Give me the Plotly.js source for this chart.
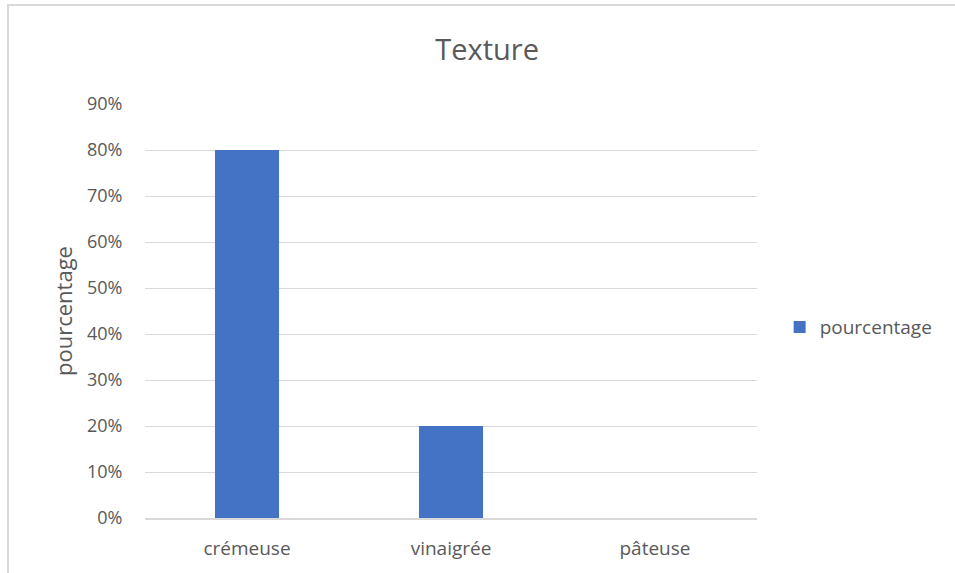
<!DOCTYPE html>
<html>
<head>
<meta charset="utf-8">
<script src="https://cdn.plot.ly/plotly-3.0.1.min.js"></script>
<style>
  html, body { margin: 0; padding: 0; background: #ffffff; }
  #wrap { position: relative; width: 955px; height: 573px; overflow: hidden; }
  #chart { width: 955px; height: 573px; }
  #frame {
    position: absolute; left: 7px; top: 4px; width: 1000px; height: 600px;
    border-top: 2px solid #d9d9d9; border-left: 2px solid #d9d9d9;
    pointer-events: none;
  }
</style>
</head>
<body>
<div id="wrap">
  <div id="chart"></div>
  <div id="frame"></div>
</div>
<script>
// Texture categories and their shares
const categories = ["crémeuse", "vinaigrée", "pâteuse"];
const values = [0.8, 0.2, 0];
const seriesName = "pourcentage";
const tickVals = [0, 0.1, 0.2, 0.3, 0.4, 0.5, 0.6, 0.7, 0.8, 0.9];
const tickText = ["0%", "10%", "20%", "30%", "40%", "50%", "60%", "70%", "80%", "90%"];

const textColor = "#595959";
const gridColor = "#d9d9d9";
const fontFamily = "'Open Sans', 'Noto Sans', sans-serif";

const trace = {
  type: "bar",
  x: categories,
  y: values,
  name: seriesName,
  marker: { color: "#4472C4" },
  showlegend: true,
  hoverinfo: "x+y"
};

const layout = {
  width: 955,
  height: 573,
  paper_bgcolor: "#ffffff",
  plot_bgcolor: "#ffffff",
  margin: { l: 145, r: 198, t: 104, b: 55 },
  bargap: 0.686,
  font: { family: fontFamily, color: textColor, size: 18 },
  title: {
    text: "Texture",
    font: { family: fontFamily, size: 29, color: textColor },
    xref: "paper", x: 0.559, xanchor: "center",
    yref: "container", y: 0.913, yanchor: "middle"
  },
  xaxis: {
    type: "category",
    showgrid: false,
    showline: true,
    linecolor: gridColor,
    linewidth: 2,
    ticks: "outside",
    ticklen: 12,
    tickcolor: "rgba(0,0,0,0)",
    tickfont: { family: fontFamily, size: 19, color: textColor },
    zeroline: false,
    fixedrange: true
  },
  yaxis: {
    range: [0, 0.9],
    tickvals: tickVals,
    ticktext: tickText,
    showgrid: true,
    gridcolor: gridColor,
    gridwidth: 1,
    zeroline: false,
    showline: false,
    ticks: "outside",
    ticklen: 18,
    tickcolor: "rgba(0,0,0,0)",
    tickfont: { family: fontFamily, size: 18, color: textColor },
    title: {
      text: "pourcentage",
      font: { family: fontFamily, size: 22, color: textColor },
      standoff: 8
    },
    fixedrange: true
  },
  legend: {
    x: 1.037, xanchor: "left",
    y: 0.461, yanchor: "middle",
    font: { family: fontFamily, size: 19, color: textColor },
    itemwidth: 30,
    bgcolor: "rgba(0,0,0,0)"
  }
};

Plotly.newPlot("chart", [trace], layout, { displayModeBar: false, staticPlot: true });
</script>
</body>
</html>
